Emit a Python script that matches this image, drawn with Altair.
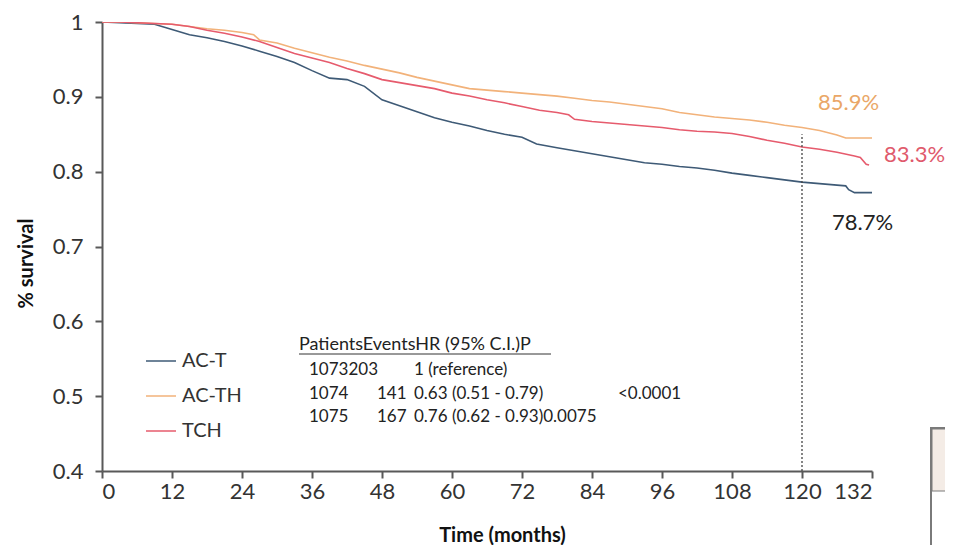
import altair as alt
import pandas as pd

# ---- data ----
act_months = [0, 3, 6, 9, 12, 15, 18, 21, 24, 27, 30, 33, 36, 39, 42, 45, 48, 51, 54, 57, 60,
              63, 66, 69, 72, 74.5, 78, 81, 84, 87, 90, 93, 96, 99, 102, 105, 108, 111, 114,
              117, 120, 123, 126, 127.5, 128, 129, 132]
act_surv = [1.0, 0.999, 0.998, 0.997, 0.990, 0.983, 0.979, 0.974, 0.968, 0.961, 0.954, 0.946,
            0.935, 0.925, 0.923, 0.914, 0.896, 0.888, 0.880, 0.872, 0.866, 0.861, 0.855, 0.850,
            0.846, 0.837, 0.832, 0.828, 0.824, 0.820, 0.816, 0.812, 0.810, 0.807, 0.805, 0.802,
            0.798, 0.795, 0.792, 0.789, 0.786, 0.784, 0.782, 0.781, 0.776, 0.772, 0.772]

acth_months = [0, 3, 6, 9, 12, 15, 18, 21, 24, 26, 27, 30, 33, 36, 39, 42, 45, 48, 51, 54, 57,
               60, 63, 66, 69, 72, 75, 78, 81, 84, 87, 90, 93, 96, 99, 102, 105, 108, 111, 114,
               117, 120, 123, 126, 127.5, 132]
acth_surv = [1.0, 1.0, 0.999, 0.998, 0.997, 0.994, 0.991, 0.989, 0.986, 0.983, 0.976, 0.972,
             0.965, 0.959, 0.953, 0.948, 0.942, 0.937, 0.932, 0.926, 0.921, 0.916, 0.911, 0.909,
             0.907, 0.905, 0.903, 0.901, 0.898, 0.895, 0.893, 0.890, 0.887, 0.884, 0.879, 0.876,
             0.873, 0.871, 0.869, 0.866, 0.862, 0.859, 0.855, 0.849, 0.845, 0.845]

tch_months = [0, 3, 6, 9, 12, 15, 18, 21, 24, 27, 30, 33, 36, 39, 42, 45, 48, 51, 54, 57, 60,
              63, 66, 69, 72, 75, 78, 80, 81, 84, 87, 90, 93, 96, 99, 102, 105, 108, 111, 114,
              117, 120, 123, 126, 129, 130, 131, 131.5]
tch_surv = [1.0, 1.0, 0.999, 0.998, 0.997, 0.994, 0.989, 0.985, 0.980, 0.974, 0.966, 0.958,
            0.952, 0.946, 0.938, 0.931, 0.923, 0.919, 0.915, 0.911, 0.905, 0.901, 0.896, 0.892,
            0.887, 0.882, 0.879, 0.876, 0.870, 0.867, 0.865, 0.863, 0.861, 0.859, 0.856, 0.854,
            0.853, 0.851, 0.847, 0.842, 0.838, 0.833, 0.830, 0.826, 0.821, 0.819, 0.810, 0.809]

arms = ["AC-T", "AC-TH", "TCH"]
arm_colors = ["#3e5a76", "#f2b27a", "#e65b6d"]
survival_at_120 = [78.7, 85.9, 83.3]
ref_month = 120
ref_top = 0.85

x_ticks = [0, 12, 24, 36, 48, 60, 72, 84, 96, 108, 120, 132]
y_ticks = [0.4, 0.5, 0.6, 0.7, 0.8, 0.9, 1.0]

table_header = "PatientsEventsHR (95% C.I.)P"
table_rows = [
    ["1073203", "", "1 (reference)", ""],
    ["1074", "141", "0.63 (0.51 - 0.79)", "<0.0001"],
    ["1075", "167", "0.76 (0.62 - 0.93)0.0075", ""],
]

FONT = "Lato"
TOP = 14  # plot top offset inside the svg

frames = []
for arm, m, s in [("AC-T", act_months, act_surv), ("AC-TH", acth_months, acth_surv),
                  ("TCH", tch_months, tch_surv)]:
    frames.append(pd.DataFrame({"arm": arm, "month": m, "surv": s}))
df = pd.concat(frames, ignore_index=True)

xscale = alt.Scale(domain=[0, 132], nice=False, zero=False)
yscale = alt.Scale(domain=[0.4, 1.0], nice=False, zero=False)


def ry(page_y):
    """page pixel y -> y relative to the plot area"""
    return page_y - 8 - TOP


lines = alt.Chart(df).mark_line(strokeWidth=1.6, clip=True).encode(
    x=alt.X("month:Q", scale=xscale,
            axis=alt.Axis(values=x_ticks, title="Time (months)", titleX=400, titleY=64,
                          titleBaseline="middle", titleAlign="center")),
    y=alt.Y("surv:Q", scale=yscale,
            axis=alt.Axis(values=y_ticks, format="~g", title="% survival", titleX=-76,
                          titleY=ry(263), titleAngle=270, titleAlign="center",
                          titleBaseline="middle")),
    color=alt.Color("arm:N", scale=alt.Scale(domain=arms, range=arm_colors),
                    legend=alt.Legend(title=None, orient="none", legendX=43,
                                      legendY=ry(345), symbolType="stroke", symbolSize=900,
                                      symbolStrokeWidth=1.5, labelFontSize=20,
                                      labelFont=FONT, labelColor="#333333",
                                      rowPadding=9, labelOffset=5, padding=0)),
    detail="arm:N",
)

ref_df = pd.DataFrame({"month": [ref_month], "y0": [0.4], "y1": [ref_top]})
ref_line = alt.Chart(ref_df).mark_rule(color="#444444", strokeWidth=1.3,
                                       strokeDash=[2, 2]).encode(
    x=alt.X("month:Q", scale=xscale), y=alt.Y("y0:Q", scale=yscale), y2="y1:Q")

layers = [lines, ref_line]

# percentage labels at 120 months
pct_pos = {"AC-T": (730, 223, "#222222"), "AC-TH": (716, 103, "#eaa767"),
           "TCH": (782, 155, "#e05a6c")}
for arm, v in zip(arms, survival_at_120):
    px, py, col = pct_pos[arm]
    layers.append(alt.Chart(pd.DataFrame({"t": [f"{v}%"]})).mark_text(
        align="left", baseline="middle", font=FONT, fontSize=22, color=col).encode(
        x=alt.value(px), y=alt.value(ry(py)), text="t:N"))

# table
layers.append(alt.Chart(pd.DataFrame({"t": [table_header]})).mark_text(
    align="left", baseline="middle", font=FONT, fontSize=18, color="#222222").encode(
    x=alt.value(197), y=alt.value(ry(345)), text="t:N"))
layers.append(alt.Chart(pd.DataFrame({"a": [0]})).mark_rule(
    color="#333333", strokeWidth=1).encode(
    x=alt.value(197), x2=alt.value(449), y=alt.value(ry(354))))
col_x = [207, 275, 312, 516]
row_y = [370, 394, 417]
for r, row in enumerate(table_rows):
    for c, txt in enumerate(row):
        if not txt:
            continue
        layers.append(alt.Chart(pd.DataFrame({"t": [txt]})).mark_text(
            align="left", baseline="middle", font=FONT, fontSize=17,
            color="#222222").encode(x=alt.value(col_x[c]), y=alt.value(ry(row_y[r])),
                                    text="t:N"))

# partial box at bottom right (cropped neighbour panel)
layers.append(alt.Chart(pd.DataFrame({"a": [0]})).mark_rect(
    fill="#ffffff", stroke="#7a7a7a", strokeWidth=2).encode(
    x=alt.value(829), x2=alt.value(900), y=alt.value(ry(428)), y2=alt.value(ry(580))))
layers.append(alt.Chart(pd.DataFrame({"a": [0]})).mark_rect(
    fill="#f4ece6", stroke="#7a7a7a", strokeWidth=1).encode(
    x=alt.value(830), x2=alt.value(900), y=alt.value(ry(429)), y2=alt.value(ry(491))))

chart = alt.layer(*layers).properties(
    width=770, height=449,
    padding={"left": 94, "top": TOP, "right": 73, "bottom": 74},
    autosize=alt.AutoSizeParams(type="none"),
    background="#ffffff",
).configure_view(stroke=None).configure_axis(
    grid=False, domainColor="#595959", domainWidth=2, tickColor="#595959", tickWidth=2,
    tickSize=7, labelFont=FONT, labelFontSize=22, labelColor="#333333",
    titleFont=FONT, titleFontSize=20, titleFontWeight="bold", titleColor="#111111",
).configure_axisX(labelPadding=3).configure_axisY(labelPadding=12)

chart.save("out.html", embed_options={"renderer": "svg", "actions": False})
